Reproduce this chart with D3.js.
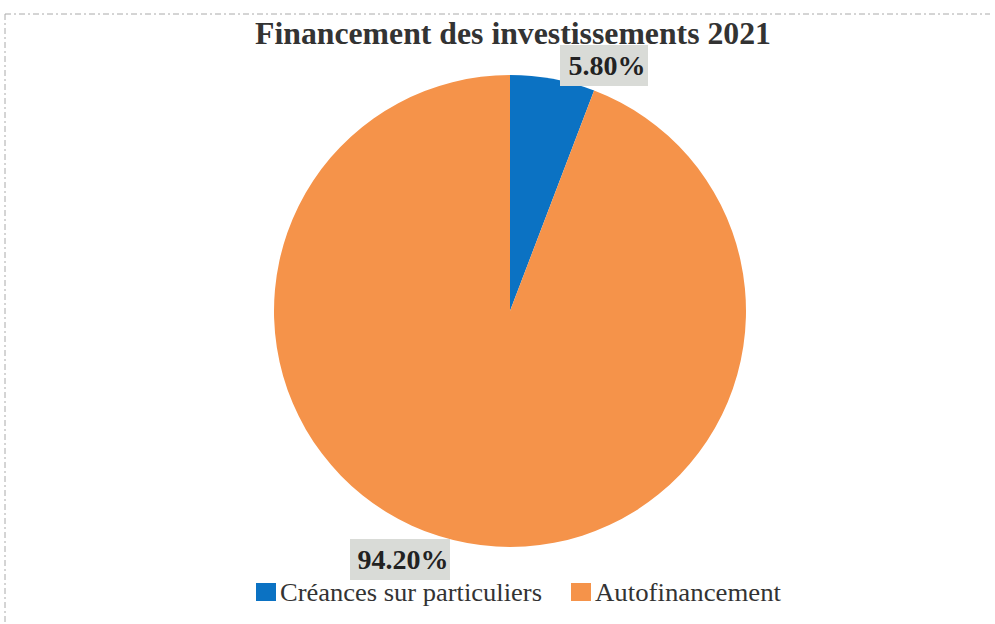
<!DOCTYPE html>
<meta charset="utf-8">
<style>
body { margin: 0; background: #fff; }
svg text { font-family: "Liberation Serif", "DejaVu Serif", serif; }
</style>
<svg width="995" height="624"></svg>
<script src="https://cdn.jsdelivr.net/npm/d3@7"></script>
<script>
var categories = ["Créances sur particuliers", "Autofinancement"];
var values = [5.80, 94.20];
var labels = ["5.80%", "94.20%"];
var colors = ["#0b72c3", "#f5934a"];

var svg = d3.select("svg"),
    width = +svg.attr("width"),
    height = +svg.attr("height");

// faint scanned frame
svg.append("path")
  .attr("d", "M5,14 H990 M5,14 V624")
  .attr("fill", "none")
  .attr("stroke", "#aaa")
  .attr("stroke-width", 1)
  .attr("stroke-dasharray", "6,3,2,3");

svg.append("text")
  .attr("x", 513)
  .attr("y", 44)
  .attr("text-anchor", "middle")
  .attr("font-size", "32px")
  .attr("font-weight", "bold")
  .attr("fill", "#333")
  .attr("textLength", 516)
  .attr("lengthAdjust", "spacingAndGlyphs")
  .text("Financement des investissements 2021");

var cx = 510, cy = 311, r = 236;

var pie = d3.pie().sort(null).value(function(d) { return d; });
var arc = d3.arc().innerRadius(0).outerRadius(r);
var arcs = pie(values);

var g = svg.append("g").attr("transform", "translate(" + cx + "," + cy + ")");

g.selectAll("path")
  .data(arcs)
  .enter().append("path")
  .attr("d", arc)
  .attr("fill", function(d, i) { return colors[i]; });

// data label boxes (centre offsets from pie centre)
var labelPos = [
  [604 - cx, 65 - cy],
  [400 - cx, 559 - cy]
];
var boxW = [88, 100];

var lab = g.selectAll(".lab")
  .data(arcs)
  .enter().append("g")
  .attr("class", "lab")
  .attr("transform", function(d, i) { return "translate(" + labelPos[i] + ")"; });

lab.append("rect")
  .attr("x", function(d, i) { return -boxW[i] / 2; })
  .attr("y", -20)
  .attr("width", function(d, i) { return boxW[i]; })
  .attr("height", 41)
  .attr("fill", "#d9dbd7");

lab.append("text")
  .attr("text-anchor", "middle")
  .attr("x", 3)
  .attr("y", 10)
  .attr("font-size", "28px")
  .attr("font-weight", "bold")
  .attr("fill", "#222")
  .text(function(d, i) { return labels[i]; });

// legend
var legendX = [256, 571];
var legendW = [262, 186];
var legend = svg.selectAll(".legend")
  .data(categories)
  .enter().append("g")
  .attr("class", "legend")
  .attr("transform", function(d, i) { return "translate(" + legendX[i] + ",583)"; });

legend.append("rect")
  .attr("width", 20)
  .attr("height", 18)
  .attr("fill", function(d, i) { return colors[i]; });

legend.append("text")
  .attr("x", 24)
  .attr("y", 18)
  .attr("font-size", "25px")
  .attr("fill", "#333")
  .attr("textLength", function(d, i) { return legendW[i]; })
  .attr("lengthAdjust", "spacingAndGlyphs")
  .text(function(d) { return d; });
</script>
